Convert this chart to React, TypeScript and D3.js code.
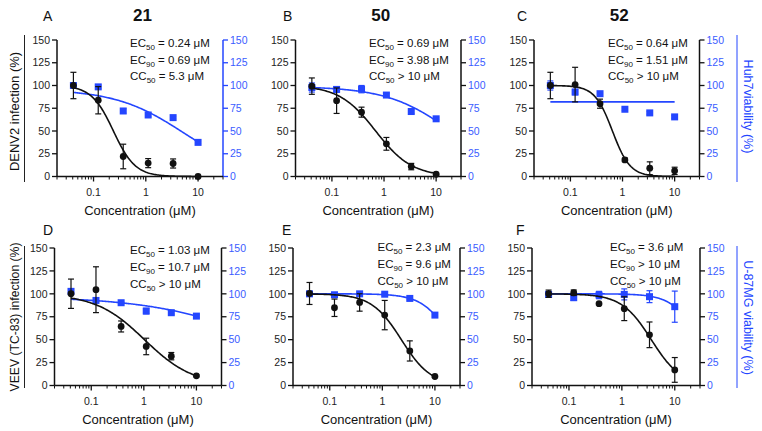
import React from "react";
import * as d3 from "d3";

// ---------- data ----------
const concentrations = [0.0412, 0.123, 0.37, 1.11, 3.33, 10];
const panelLetters = ["A", "B", "C", "D", "E", "F"];
const compoundTitles = ["21", "50", "52"];
const yTicks = [0, 25, 50, 75, 100, 125, 150];
const xMajorTicks = [0.1, 1, 10];
const xTickLabels = ["0.1", "1", "10"];

const infectionMeans = [
  [100, 83.8, 22, 14.7, 14.3, 0],
  [99.3, 83.3, 70.7, 35.9, 10.9, 2.5],
  [100, 101, 80, 18.2, 9.1, 6.2],
  [100.1, 104.5, 64.4, 42.6, 32, 10.6],
  [100.4, 84.8, 90.6, 76.8, 37.7, 9.8],
  [100.1, 101.2, 89.3, 83.8, 55.3, 17],
];
const infectionErrors = [
  [14.5, 15, 13.5, 5, 5, 0],
  [9, 14, 5.5, 7, 3.5, 1],
  [14.5, 19, 5, 2, 7, 4],
  [16, 25, 6, 9, 4, 1],
  [12, 9.5, 9.5, 16, 11, 1],
  [4, 3, 0, 13, 14, 13.5],
];
const viabilityMeans = [
  [100, 98.5, 72, 67.6, 64.7, 37.5],
  [97.8, 95.7, 96, 89.5, 71.4, 63.4],
  [100, 92.8, 91, 73.9, 69.9, 65.5],
  [102.7, 92.8, 90.3, 81.2, 79.4, 75.7],
  [100, 99, 100, 99.6, 95, 76.8],
  [99.4, 95.8, 98.7, 99.4, 96.9, 86],
];
const viabilityErrors = [
  [2, 2, 2.5, 2, 1.5, 1.5],
  [5, 3, 4, 2, 2, 1],
  [5, 3, 2, 1.5, 1.5, 1.5],
  [3, 2, 1.5, 3, 1.5, 1.5],
  [1, 1, 1, 1, 1.5, 1],
  [3, 3, 4, 6, 6.5, 17],
];
// fitted 4PL parameters: [top, bottom, EC50/CC50, hill]
const infectionFits = [
  [100, 0, 0.24, 2.08],
  [100, 0, 0.69, 1.25],
  [100, 0, 0.64, 2.56],
  [100, 0, 1.03, 0.94],
  [100, 0, 2.3, 1.54],
  [100, 0, 3.6, 1.55],
];
const viabilityFits = [
  [96, 0, 5.3, 0.665],
  [99, 0, 20, 0.7],
  [82, 82, 1, 1],
  [97, 0, 239, 0.4],
  [100, 0, 21.3, 1.58],
  [100, 0, 29.7, 1.67],
];
const ec50Text = ["= 0.24 μM", "= 0.69 μM", "= 0.64 μM", "= 1.03 μM", "= 2.3 μM", "= 3.6 μM"];
const ec90Text = ["= 0.69 μM", "= 3.98 μM", "= 1.51 μM", "= 10.7 μM", "= 9.6 μM", "> 10 μM"];
const cc50Text = ["= 5.3 μM", "> 10 μM", "> 10 μM", "> 10 μM", "> 10 μM", "> 10 μM"];
const leftTitles = ["DENV2 infection (%)", "VEEV (TC-83) infection (%)"];
const rightTitles = ["Huh7viability (%)", "U-87MG viability (%)"];
const xTitle = "Concentration (μM)";

// ---------- layout ----------
const W = 762;
const H = 431;
const FONT = "'Liberation Sans', Arial, Helvetica, sans-serif";
const BLUE = "#2446ff";
const BLUE_TEXT = "#3a5cff";

const layouts = [
  { left: 57, right: 223, top: 40, bottom: 176.5, textX: 130, textY: 46.8, rightBlue: true },
  { left: 295.5, right: 461, top: 40, bottom: 176.5, textX: 369, textY: 46.8, rightBlue: false },
  { left: 534, right: 699.5, top: 40, bottom: 176.5, textX: 608, textY: 46.8, rightBlue: false },
  { left: 54.5, right: 221.5, top: 248, bottom: 385.5, textX: 130, textY: 254, rightBlue: false },
  { left: 293, right: 460, top: 248, bottom: 385.5, textX: 377.5, textY: 251, rightBlue: false },
  { left: 532, right: 700, top: 248, bottom: 385.5, textX: 610, textY: 251, rightBlue: false },
];

const fourPL = (p: number[], x: number) => p[1] + (p[0] - p[1]) / (1 + Math.pow(x / p[2], p[3]));

function ECLine({ x, y, pre, sub, rest }: { x: number; y: number; pre: string; sub: string; rest: string }) {
  return (
    <text x={x} y={y} fontSize={11.5} fontFamily={FONT} fill="#111">
      {pre}
      <tspan fontSize={8} dy={3}>{sub}</tspan>
      <tspan dy={-3}>{" " + rest}</tspan>
    </text>
  );
}

function Panel({ i }: { i: number }) {
  const L = layouts[i];
  const x = d3.scaleLog().domain([0.02, 30]).range([L.left, L.right]);
  const y = d3.scaleLinear().domain([0, 150]).range([L.bottom, L.top]);
  const minorTicks = x.ticks().filter((t) => !xMajorTicks.some((m) => Math.abs(m - t) < 1e-9));
  const xs = d3.range(0, 121).map((k) => {
    const a = Math.log10(concentrations[0]);
    const b = Math.log10(concentrations[concentrations.length - 1]);
    return Math.pow(10, a + ((b - a) * k) / 120);
  });
  const line = d3
    .line<number[]>()
    .x((d) => x(d[0]))
    .y((d) => y(d[1]));
  const infCurve = line(xs.map((c) => [c, fourPL(infectionFits[i], c)])) || "";
  const viaCurve = line(xs.map((c) => [c, fourPL(viabilityFits[i], c)])) || "";
  const rightColor = L.rightBlue ? BLUE : "#111";
  const cap = 3;
  return (
    <g>
      {/* axes */}
      <line x1={L.left} x2={L.left} y1={L.top} y2={L.bottom} stroke="#111" strokeWidth={1.5} />
      <line x1={L.right} x2={L.right} y1={L.top} y2={L.bottom} stroke={rightColor} strokeWidth={1.5} />
      <line x1={L.left} x2={L.right} y1={L.bottom} y2={L.bottom} stroke="#111" strokeWidth={1.5} />
      {yTicks.map((t) => (
        <g key={"yt" + t}>
          <line x1={L.left - 5} x2={L.left} y1={y(t)} y2={y(t)} stroke="#111" strokeWidth={1.3} />
          <text x={L.left - 7} y={y(t) + 3.7} textAnchor="end" fontSize={10.5} fontFamily={FONT} fill="#222">
            {t}
          </text>
          <line x1={L.right} x2={L.right + 5} y1={y(t)} y2={y(t)} stroke={rightColor} strokeWidth={1.3} />
          <text x={L.right + 7} y={y(t) + 3.7} textAnchor="start" fontSize={10.5} fontFamily={FONT} fill={BLUE_TEXT}>
            {t}
          </text>
        </g>
      ))}
      {xMajorTicks.map((t, k) => (
        <g key={"xt" + t}>
          <line x1={x(t)} x2={x(t)} y1={L.bottom} y2={L.bottom + 5} stroke="#111" strokeWidth={1.3} />
          <text x={x(t)} y={L.bottom + 19.5} textAnchor="middle" fontSize={10.5} fontFamily={FONT} fill="#222">
            {xTickLabels[k]}
          </text>
        </g>
      ))}
      {minorTicks.map((t) => (
        <line key={"mt" + t} x1={x(t)} x2={x(t)} y1={L.bottom} y2={L.bottom + 3} stroke="#111" strokeWidth={1} />
      ))}
      <text
        x={(L.left + L.right) / 2}
        y={L.bottom + 38}
        textAnchor="middle"
        fontSize={13}
        fontFamily={FONT}
        fill="#111"
      >
        {xTitle}
      </text>

      {/* viability (blue) */}
      <path d={viaCurve} fill="none" stroke={BLUE} strokeWidth={1.6} />
      {concentrations.map((c, k) => {
        const m = viabilityMeans[i][k];
        const e = viabilityErrors[i][k];
        return (
          <g key={"v" + k}>
            <line x1={x(c)} x2={x(c)} y1={y(m + e)} y2={y(m - e)} stroke={BLUE} strokeWidth={1.2} />
            <line x1={x(c) - cap} x2={x(c) + cap} y1={y(m + e)} y2={y(m + e)} stroke={BLUE} strokeWidth={1.2} />
            <line x1={x(c) - cap} x2={x(c) + cap} y1={y(m - e)} y2={y(m - e)} stroke={BLUE} strokeWidth={1.2} />
            <rect x={x(c) - 3.5} y={y(m) - 3.5} width={7} height={7} fill={BLUE} />
          </g>
        );
      })}

      {/* infection (black) */}
      <path d={infCurve} fill="none" stroke="#111" strokeWidth={1.6} />
      {concentrations.map((c, k) => {
        const m = infectionMeans[i][k];
        const e = infectionErrors[i][k];
        return (
          <g key={"i" + k}>
            {e > 0 && (
              <g>
                <line x1={x(c)} x2={x(c)} y1={y(m + e)} y2={y(m - e)} stroke="#111" strokeWidth={1.2} />
                <line x1={x(c) - cap} x2={x(c) + cap} y1={y(m + e)} y2={y(m + e)} stroke="#111" strokeWidth={1.2} />
                <line x1={x(c) - cap} x2={x(c) + cap} y1={y(m - e)} y2={y(m - e)} stroke="#111" strokeWidth={1.2} />
              </g>
            )}
            <circle cx={x(c)} cy={y(m)} r={3.4} fill="#111" />
          </g>
        );
      })}

      {/* annotations */}
      <ECLine x={L.textX} y={L.textY} pre="EC" sub="50" rest={ec50Text[i]} />
      <ECLine x={L.textX} y={L.textY + 16.8} pre="EC" sub="90" rest={ec90Text[i]} />
      <ECLine x={L.textX} y={L.textY + 33.6} pre="CC" sub="50" rest={cc50Text[i]} />
    </g>
  );
}

export default function App() {
  const letterPos = [
    [43, 20.5],
    [283, 20.5],
    [517, 20.5],
    [43, 235],
    [282, 235],
    [516, 235],
  ];
  return (
    <svg
      width={W}
      height={H}
      viewBox={`0 0 ${W} ${H}`}
      style={{ position: "absolute", left: 0, top: 0, background: "#fff" }}
    >
      <rect x={0} y={0} width={W} height={H} fill="#fff" />
      {layouts.map((_, i) => (
        <Panel key={i} i={i} />
      ))}
      {panelLetters.map((l, i) => (
        <text key={l} x={letterPos[i][0]} y={letterPos[i][1]} fontSize={14} fontFamily={FONT} fill="#111">
          {l}
        </text>
      ))}
      {compoundTitles.map((t, i) => (
        <text
          key={t}
          x={(layouts[i].left + layouts[i].right) / 2 + 2.5}
          y={21}
          textAnchor="middle"
          fontSize={17}
          fontWeight="bold"
          fontFamily={FONT}
          fill="#111"
        >
          {t}
        </text>
      ))}
      {/* left axis titles */}
      <line x1={24.5} x2={24.5} y1={35} y2={182} stroke="#222" strokeWidth={1} />
      <text transform="translate(18.5,111.5) rotate(-90)" textAnchor="middle" fontSize={13} fontFamily={FONT} fill="#111">
        {leftTitles[0]}
      </text>
      <line x1={24.5} x2={24.5} y1={246} y2={388} stroke="#222" strokeWidth={1} />
      <text transform="translate(18.5,317) rotate(-90)" textAnchor="middle" fontSize={12.2} fontFamily={FONT} fill="#111">
        {leftTitles[1]}
      </text>
      {/* right axis titles */}
      <line x1={737} x2={737} y1={35} y2={182} stroke={BLUE} strokeWidth={1} />
      <text transform="translate(744,106.5) rotate(90)" textAnchor="middle" fontSize={12.5} fontFamily={FONT} fill={BLUE}>
        {rightTitles[0]}
      </text>
      <line x1={737} x2={737} y1={246} y2={388} stroke={BLUE} strokeWidth={1} />
      <text transform="translate(744,317.5) rotate(90)" textAnchor="middle" fontSize={12.5} fontFamily={FONT} fill={BLUE}>
        {rightTitles[1]}
      </text>
    </svg>
  );
}
